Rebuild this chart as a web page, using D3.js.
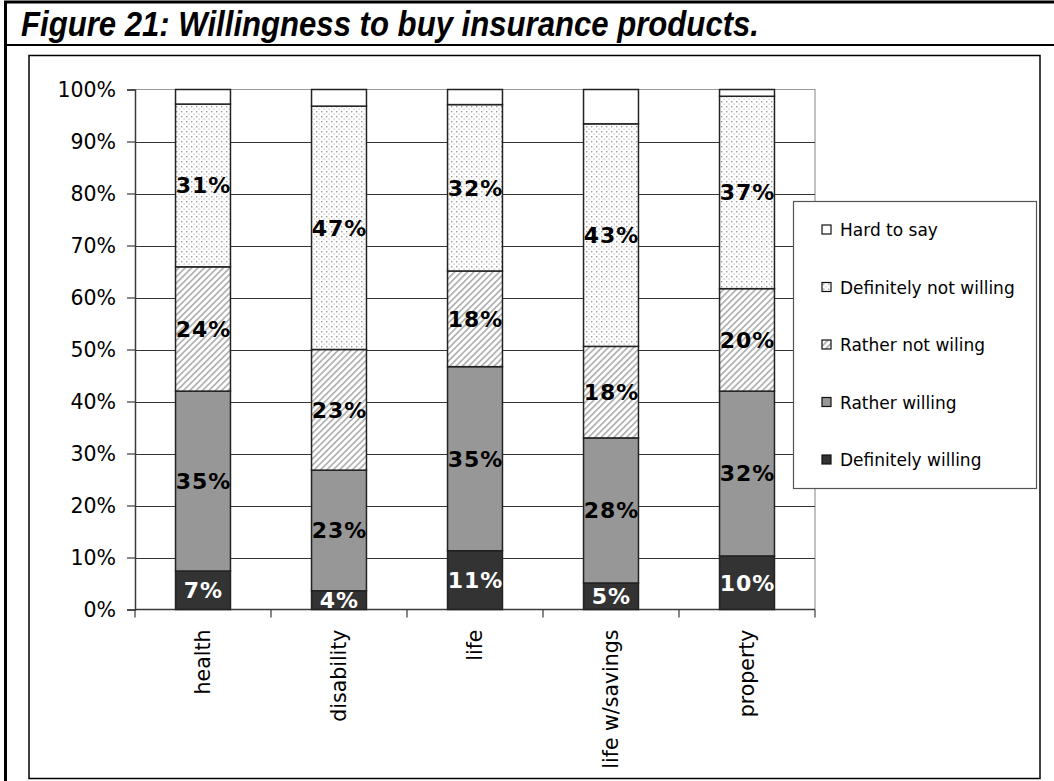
<!DOCTYPE html>
<html>
<head>
<meta charset="utf-8">
<script src="https://cdn.jsdelivr.net/npm/d3@7"></script>
<style>
  html, body { margin: 0; padding: 0; background: #fff; }
  svg { display: block; }
</style>
</head>
<body>
<svg id="chart" width="1054" height="781"></svg>
<script>
// Survey answers per insurance product (shares of respondents, %)
const categories = ["health", "disability", "life", "life w/savings", "property"];
const seriesNames = ["Definitely willing", "Rather willing", "Rather not wiling", "Definitely not willing", "Hard to say"];
const definitelyWilling    = [7.4, 3.6, 11.3, 5.1, 10.3];
const ratherWilling        = [34.6, 23.2, 35.4, 27.9, 31.7];
const ratherNotWilling     = [23.9, 23.2, 18.4, 17.6, 19.7];
const definitelyNotWilling = [31.3, 46.8, 32.0, 42.8, 37.0];
const hardToSay            = [2.8, 3.2, 2.9, 6.6, 1.3];
const yTickValues = [0, 10, 20, 30, 40, 50, 60, 70, 80, 90, 100];
const yTickLabels = ["0%", "10%", "20%", "30%", "40%", "50%", "60%", "70%", "80%", "90%", "100%"];
const titleText = "Figure 21: Willingness to buy insurance products.";

const seriesValues = [definitelyWilling, ratherWilling, ratherNotWilling, definitelyNotWilling, hardToSay];
const rows = categories.map((c, i) => {
  const r = { category: c };
  seriesNames.forEach((s, k) => { r[s] = seriesValues[k][i]; });
  return r;
});

const svg = d3.select("#chart");
const defs = svg.append("defs");

// fill patterns
const dots = defs.append("pattern").attr("id", "dots")
  .attr("patternUnits", "userSpaceOnUse").attr("width", 5).attr("height", 5);
dots.append("rect").attr("width", 5).attr("height", 5).attr("fill", "#fff");
dots.append("rect").attr("x", 1).attr("y", 1).attr("width", 1.4).attr("height", 1.4).attr("fill", "#9c9c9c");
dots.append("rect").attr("x", 3.5).attr("y", 3.5).attr("width", 1.2).attr("height", 1.2).attr("fill", "#b8b8b8");

const hatch = defs.append("pattern").attr("id", "hatch")
  .attr("patternUnits", "userSpaceOnUse").attr("width", 4.5).attr("height", 4.5)
  .attr("patternTransform", "rotate(45)");
hatch.append("rect").attr("width", 4.5).attr("height", 4.5).attr("fill", "#fff");
hatch.append("rect").attr("x", 0).attr("y", 0).attr("width", 1.7).attr("height", 4.5).attr("fill", "#b0b0b0");

const fills = {
  "Definitely willing": "#333333",
  "Rather willing": "#979797",
  "Rather not wiling": "url(#hatch)",
  "Definitely not willing": "url(#dots)",
  "Hard to say": "#ffffff"
};

// frame
svg.append("line").attr("x1", 4).attr("x2", 1054).attr("y1", 2).attr("y2", 2)
  .attr("stroke", "#000").attr("stroke-width", 3);
svg.append("line").attr("x1", 5.5).attr("x2", 5.5).attr("y1", 1).attr("y2", 781)
  .attr("stroke", "#000").attr("stroke-width", 3);
svg.append("line").attr("x1", 5).attr("x2", 1054).attr("y1", 45).attr("y2", 45)
  .attr("stroke", "#000").attr("stroke-width", 2);
svg.append("rect").attr("x", 29).attr("y", 55.5).attr("width", 1011).attr("height", 723)
  .attr("fill", "none").attr("stroke", "#000").attr("stroke-width", 1.5);

svg.append("text")
  .attr("x", 21).attr("y", 36)
  .attr("font-family", "'Liberation Sans Narrow', 'Liberation Sans', Arial, sans-serif")
  .attr("font-weight", "bold").attr("font-style", "italic")
  .attr("font-size", 35)
  .attr("textLength", 738).attr("lengthAdjust", "spacingAndGlyphs")
  .text(titleText);

// scales
const plot = { left: 135, right: 815, top: 89.5, bottom: 609.5 };
const x = d3.scaleBand().domain(categories).range([plot.left, plot.right])
  .paddingInner(0.596).paddingOuter(0.298);
const y = d3.scaleLinear().domain([0, 100]).range([plot.bottom, plot.top]);

// plot area border (top/right) and gridlines
svg.append("path")
  .attr("d", `M${plot.left},${plot.top}H${plot.right}V${plot.bottom}`)
  .attr("fill", "none").attr("stroke", "#9a9a9a").attr("stroke-width", 1.2);
svg.append("g").selectAll("line").data(yTickValues.filter(v => v > 0 && v < 100)).join("line")
  .attr("x1", plot.left).attr("x2", plot.right)
  .attr("y1", d => Math.round(y(d)) + 0.5).attr("y2", d => Math.round(y(d)) + 0.5)
  .attr("stroke", "#333").attr("stroke-width", 1.1);

// y axis
const yAxis = d3.axisLeft(y).tickValues(yTickValues).tickSize(8).tickPadding(11)
  .tickFormat((d, i) => yTickLabels[i]);
const gy = svg.append("g").attr("transform", `translate(${plot.left},0)`).call(yAxis);
gy.select(".domain").attr("stroke", "#3a3a3a").attr("stroke-width", 1.5);
gy.selectAll(".tick line").attr("stroke", "#3a3a3a").attr("stroke-width", 1.2);
gy.selectAll(".tick text").attr("font-family", "'DejaVu Sans', sans-serif")
  .attr("font-size", 20.5).attr("fill", "#000").attr("dy", "0.36em");

// x axis: baseline, boundary ticks, rotated labels
const step = x.step();
const boundaries = d3.range(categories.length + 1).map(i => plot.left + i * step);
svg.append("line").attr("x1", plot.left).attr("x2", plot.right)
  .attr("y1", plot.bottom).attr("y2", plot.bottom)
  .attr("stroke", "#3a3a3a").attr("stroke-width", 1.5);
svg.append("g").selectAll("line").data(boundaries).join("line")
  .attr("x1", d => d).attr("x2", d => d)
  .attr("y1", plot.bottom).attr("y2", plot.bottom + 8)
  .attr("stroke", "#3a3a3a").attr("stroke-width", 1.2);
svg.append("g").selectAll("text").data(categories).join("text")
  .attr("transform", d => `translate(${x(d) + x.bandwidth() / 2},${plot.bottom + 20}) rotate(-90)`)
  .attr("text-anchor", "end").attr("dy", "0.36em")
  .attr("font-family", "'DejaVu Sans', sans-serif").attr("font-size", 20.5)
  .text(d => d);

// stacked bars
const stacked = d3.stack().keys(seriesNames)(rows);
const layers = svg.append("g").selectAll("g").data(stacked).join("g")
  .attr("fill", d => fills[d.key]);
layers.selectAll("rect").data(d => d).join("rect")
  .attr("x", d => x(d.data.category))
  .attr("y", d => y(d[1]))
  .attr("width", x.bandwidth())
  .attr("height", d => y(d[0]) - y(d[1]))
  .attr("stroke", "#222").attr("stroke-width", 1.5);

// value labels
const labelled = stacked.filter(s => s.key !== "Hard to say");
svg.append("g").selectAll("g").data(labelled).join("g")
  .attr("fill", d => d.key === "Definitely willing" ? "#fff" : "#000")
  .selectAll("text").data(d => d).join("text")
  .attr("x", d => x(d.data.category) + x.bandwidth() / 2 + 0.5)
  .attr("y", d => y((d[0] + d[1]) / 2))
  .attr("dy", "0.36em").attr("text-anchor", "middle")
  .attr("font-family", "'DejaVu Sans', sans-serif").attr("font-weight", "bold")
  .attr("font-size", 22).attr("letter-spacing", 1)
  .text(d => Math.round(d[1] - d[0]) + "%");

// legend
const legend = svg.append("g");
legend.append("rect").attr("x", 793.5).attr("y", 201.5).attr("width", 243).attr("height", 287)
  .attr("fill", "#fff").attr("stroke", "#555").attr("stroke-width", 1.2);
const legendOrder = seriesNames.slice().reverse();
const ly = d3.scalePoint().domain(legendOrder).range([230, 460]);
const items = legend.selectAll("g.item").data(legendOrder).join("g").attr("class", "item")
  .attr("transform", d => `translate(822,${ly(d)})`);
items.append("rect").attr("x", 0).attr("y", -5).attr("width", 9).attr("height", 9)
  .attr("fill", d => fills[d]).attr("stroke", "#111").attr("stroke-width", 1.2);
items.append("text").attr("x", 18).attr("y", 0).attr("dy", "0.36em")
  .attr("font-family", "'DejaVu Sans', sans-serif").attr("font-size", 17)
  .text(d => d);
</script>
</body>
</html>
